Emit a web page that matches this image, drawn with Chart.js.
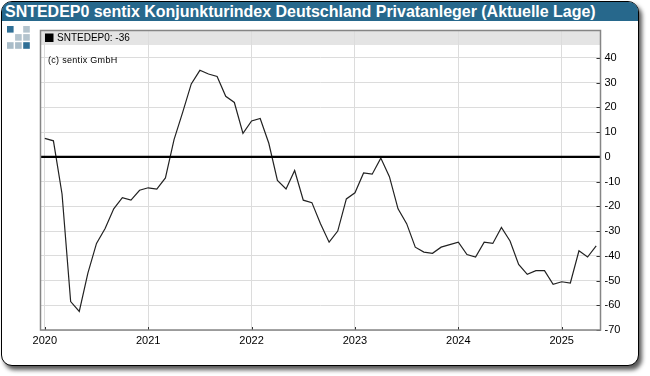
<!DOCTYPE html>
<html><head><meta charset="utf-8">
<script src="https://cdn.jsdelivr.net/npm/chart.js@4/dist/chart.umd.min.js"></script>
<style>
html,body{margin:0;padding:0;background:#fff;width:650px;height:376px;overflow:hidden}
#card{position:absolute;left:1px;top:1px;width:636px;height:363px;border:1.5px solid #000;border-radius:11px;background:#fff;box-shadow:3px 4px 4px rgba(0,0,0,.65)}
#band{position:absolute;left:0;top:0;right:0;height:19px;background:#27688c;border-radius:9px 9px 0 0}
#title{position:absolute;left:3px;top:0;font:bold 16px "Liberation Sans",Arial,sans-serif;letter-spacing:-.02px;color:#fff;line-height:19px;white-space:nowrap}
canvas{position:absolute;left:0;top:0}
</style></head><body>
<div id="card"><div id="band"><div id="title">SNTEDEP0 sentix Konjunkturindex Deutschland Privatanleger (Aktuelle Lage)</div></div></div>
<canvas id="c" width="650" height="376"></canvas>
<script>
const seriesName = "SNTEDEP0";
const lastValue = -36;
const copyright = "(c) sentix GmbH";
const startYear = 2020;
const yearTicks = [2020, 2021, 2022, 2023, 2024, 2025];
const valueTicks = [40, 30, 20, 10, 0, -10, -20, -30, -40, -50, -60, -70];
const values = [
  7.5, 6.5, -15, -58.5, -62.5, -47, -35, -29, -21, -16.5, -17.5, -13.5,
  -12.5, -13, -8.5, 7, 18, 29.5, 35, 33.5, 32.5, 24.5, 22, 9.5,
  14.5, 15.5, 5.5, -9.5, -13, -5.5, -17.5, -18.5, -27, -34.5, -30, -17,
  -14.5, -6.5, -7, -0.5, -8, -21, -27, -36.5, -38.5, -39, -36.5, -35.5,
  -34.5, -39.5, -40.5, -34.5, -35, -28.5, -34, -43.5, -47.5, -46, -46, -51.5,
  -50.5, -51, -38, -40.5, -36
];
const FONT = '"Liberation Sans",Arial,sans-serif';

const decor = {
  id: 'decor',
  beforeDraw(chart) {
    const {ctx, chartArea: a} = chart;
    ctx.save();
    ctx.fillStyle = '#e4e4e4';
    ctx.fillRect(a.left, a.top, a.right - a.left, 14.5);
    const cells = [[0,0,'#2f6f96'],[2,0,'#b4c4ce'],[1,1,'#b4c4ce'],[2,1,'#b4c4ce'],[0,2,'#a9bcc8'],[1,2,'#a9bcc8'],[2,2,'#2f6f96']];
    cells.forEach(([i,j,col]) => { ctx.fillStyle = col; ctx.fillRect(7 + i*8.1, 26 + j*8.1, 6.6, 6.6); });
    ctx.restore();
  },
  afterDatasetsDraw(chart) {
    const {ctx, chartArea: a, scales: {x, y}} = chart;
    ctx.save();
    ctx.strokeStyle = '#333'; ctx.lineWidth = 1;
    y.ticks.forEach(t => { const p = Math.round(y.getPixelForValue(t.value)) + .5;
      ctx.beginPath(); ctx.moveTo(a.right - 4, p); ctx.lineTo(a.right, p); ctx.stroke(); });
    x.ticks.forEach(t => { const p = Math.round(x.getPixelForValue(t.value)) + .5;
      ctx.beginPath(); ctx.moveTo(p, a.bottom - 3); ctx.lineTo(p, a.bottom); ctx.stroke(); });
    ctx.strokeStyle = '#000'; ctx.lineWidth = 2.4;
    const z = y.getPixelForValue(0);
    ctx.beginPath(); ctx.moveTo(a.left, z); ctx.lineTo(a.right, z); ctx.stroke();
    ctx.strokeStyle = '#858585'; ctx.lineWidth = 1.5;
    ctx.strokeRect(a.left, a.top, a.right - a.left, a.bottom - a.top);
    ctx.fillStyle = '#000';
    ctx.fillRect(45, 33.5, 8.5, 8.5);
    ctx.textBaseline = 'middle';
    ctx.font = '10px ' + FONT;
    ctx.fillText(seriesName + ': ' + lastValue, 57, 38.5);
    ctx.font = '9px ' + FONT;
    ctx.letterSpacing = '0.3px';
    ctx.fillText(copyright, 48, 61);
    ctx.restore();
  }
};

new Chart(document.getElementById('c'), {
  type: 'line',
  data: { datasets: [{
    label: seriesName,
    data: values.map((v, i) => ({x: i, y: v})),
    borderColor: '#222', borderWidth: 1.2, pointRadius: 0, tension: 0, fill: false
  }]},
  options: {
    responsive: false, animation: false, events: [],
    layout: {padding: {left: 40.5, top: 30.5, right: 0, bottom: 0}},
    plugins: {legend: {display: false}, title: {display: false}, tooltip: {enabled: false}},
    scales: {
      x: {
        type: 'linear', min: -0.5, max: 64.5,
        afterBuildTicks(s) { s.ticks = yearTicks.map(yr => ({value: (yr - startYear) * 12})); },
        afterFit(s) { s.height = 46; },
        grid: {color: '#dcdcdc', lineWidth: 1, drawTicks: false},
        border: {display: false},
        ticks: {autoSkip: false, maxRotation: 0, padding: 4, color: '#000', font: {family: FONT, size: 11},
          callback: v => String(startYear + v / 12)}
      },
      y: {
        position: 'right', min: -70, max: 51.1,
        afterBuildTicks(s) { s.ticks = valueTicks.map(v => ({value: v})); },
        afterFit(s) { s.width = 49.5; },
        grid: {color: '#dcdcdc', lineWidth: 1, drawTicks: false},
        border: {display: false},
        ticks: {padding: 4, color: '#000', font: {family: FONT, size: 11}}
      }
    }
  },
  plugins: [decor]
});
</script>
</body></html>
